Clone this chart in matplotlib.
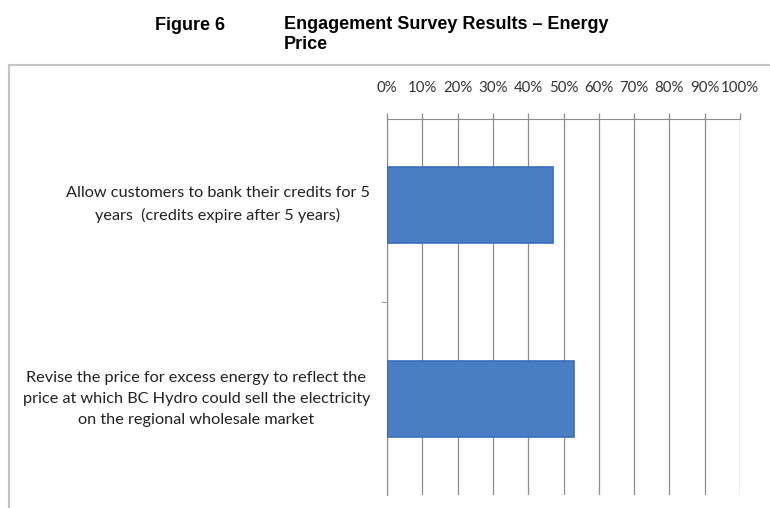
import numpy as np
import matplotlib.pyplot as plt
from matplotlib.patches import Rectangle
from matplotlib.ticker import PercentFormatter
from matplotlib.transforms import blended_transform_factory

# survey answers (share of respondents)
labels = [
    "Allow customers to bank their credits for 5\nyears  (credits expire after 5 years)",
    "Revise the price for excess energy to reflect the\nprice at which BC Hydro could sell the electricity\non the regional wholesale market",
]
shares = [47, 53]
ticks = list(range(0, 101, 10))

grid_col = "#8c8c8c"
bar_col = "#4a7ec2"
edge_col = "#3a6cc0"
title_font = ["Liberation Sans", "DejaVu Sans"]
body_font = ["Lato", "DejaVu Sans"]

fig = plt.figure(figsize=(7.7, 5.08), dpi=100)

# outer frame around the chart area
fig.patches.append(Rectangle((9 / 770, -0.05), 1.0, 1 - 65 / 508 + 0.05,
                             transform=fig.transFigure, fill=False,
                             edgecolor="#c4c4c4", linewidth=1.5))

fig.text(155 / 770, 1 - 25 / 508, "Figure 6", fontsize=13, fontweight="bold",
         family=title_font, va="center")
fig.text(284 / 770, 1 - 16 / 508, "Engagement Survey Results \u2013 Energy\nPrice",
         fontsize=13, fontweight="bold", linespacing=1.2,
         family=title_font, va="top")

ax = fig.add_axes([387 / 770, 1 - 495 / 508, (740 - 387) / 770, (495 - 119) / 508])

y = np.arange(len(labels))
ax.barh(y, shares, height=0.39, color=bar_col, edgecolor=edge_col, linewidth=1.2, zorder=3)

ax.set_xlim(0, 100)
ax.set_ylim(1.495, -0.443)
ax.set_xticks(ticks)
ax.xaxis.set_major_formatter(PercentFormatter(decimals=0))
ax.xaxis.tick_top()
ax.tick_params(axis="x", length=4, width=0.9, color=grid_col, pad=13,
               labelsize=10.8, labelcolor="#333333")
for t in ax.get_xticklabels():
    t.set_family(body_font)

ax.set_yticks(y)
ax.set_yticklabels([])
ax.set_yticks([0.5], minor=True)
ax.tick_params(axis="y", which="major", length=0)
ax.tick_params(axis="y", which="minor", length=4, color=grid_col)

# category labels: right edge near the axis, lines centred within the block
label_trans = blended_transform_factory(fig.transFigure, ax.transData)
for i, lab in enumerate(labels):
    ax.text(370 / 770, i, lab, transform=label_trans,
            ha="right", multialignment="center", va="center", fontsize=11.7,
            color="#222222", family=body_font, linespacing=1.65)

ax.grid(axis="x", color=grid_col, linewidth=0.9, zorder=0)
for s in ["right", "bottom"]:
    ax.spines[s].set_visible(False)
ax.spines["top"].set_color(grid_col)
ax.spines["left"].set_color(grid_col)

fig.savefig("out.png", dpi=100)
